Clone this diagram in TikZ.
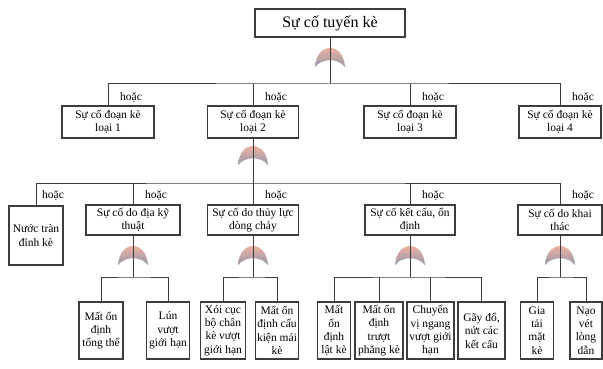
\documentclass[tikz,border=0pt]{standalone}
\usepackage{fontspec}
\setmainfont{Liberation Serif}
\usepackage{tikz}

\definecolor{gatetop}{RGB}{236,178,160}
\definecolor{gatemid}{RGB}{218,142,120}
\definecolor{gatebot}{RGB}{150,152,172}
\definecolor{linegray}{RGB}{60,60,60}

\begin{document}
\begin{tikzpicture}[
                x=1pt, y=-1pt,               % 1pt = 1px of the layout
                every node/.style={
                    align=center,
                    inner sep=0pt,
                    font=\fontsize{11.5}{13.4}\selectfont
                },
                box/.style={draw=linegray, line width=1.2pt, fill=white, minimum height=32pt},
                leaf/.style={box, minimum height=57pt},
                lab/.style={anchor=west},
                link/.style={draw=linegray, line width=1pt},
                orgate/.pic={
                    \shade[top color=gatetop, middle color=gatemid, bottom color=gatebot]
                        (-15,9) .. controls (-14,-4) and (-7,-10) .. (0,-10)
                        .. controls (7,-10) and (14,-4) .. (15,9)
                        .. controls (8,0) and (-8,0) .. (-15,9) -- cycle;
                }
            ]
                \useasboundingbox (0,0) rectangle (603,369);

                % nodes
                \node[box, minimum width=150pt, minimum height=28pt,
                      font=\fontsize{16}{18}\selectfont] (top) at (330,23) {Sự cố tuyến kè};

                \node[box, minimum width=92pt] (d1) at (108,122) {Sự cố đoạn kè\\loại 1};
                \node[box, minimum width=91pt] (d2) at (253,122) {Sự cố đoạn kè\\loại 2};
                \node[box, minimum width=92pt] (d3) at (410,122) {Sự cố đoạn kè\\loại 3};
                \node[box, minimum width=82pt] (d4) at (560,122) {Sự cố đoạn kè\\loại 4};

                \node[box, minimum width=54pt, minimum height=59pt] (tran) at (36,235.5) {Nước tràn\\đỉnh kè};
                \node[box, minimum width=94pt, minimum height=30pt] (dkt) at (133,220) {Sự cố do địa kỹ\\thuật};
                \node[box, minimum width=91pt, minimum height=30pt] (tl) at (253,220) {Sự cố do thủy lực\\dòng chảy};
                \node[box, minimum width=90pt, minimum height=30pt] (kc) at (410,220) {Sự cố kết cấu, ổn\\định};
                \node[box, minimum width=84pt, minimum height=30pt] (kt) at (560,220) {Sự cố do khai\\thác};

                \node[leaf, minimum width=44pt] (a1) at (101,330.5) {Mất ổn\\định\\tổng thể};
                \node[leaf, minimum width=43pt] (a2) at (168,330.5) {Lún\\vượt\\giới hạn};
                \node[leaf, minimum width=45pt] (b1) at (223,330.5) {Xói cục\\bộ chân\\kè vượt\\giới hạn};
                \node[leaf, minimum width=43pt] (b2) at (277,330.5) {Mất ổn\\định cấu\\kiện mái\\kè};
                \node[leaf, minimum width=33pt] (c1) at (334,330.5) {Mất\\ổn\\định\\lật kè};
                \node[leaf, minimum width=48pt] (c2) at (379,330.5) {Mất ổn\\định\\trượt\\phẳng kè};
                \node[leaf, minimum width=47pt] (c3) at (430.5,330.5) {Chuyển\\vị ngang\\vượt giới\\hạn};
                \node[leaf, minimum width=47pt] (c4) at (481.5,330.5) {Gãy đổ,\\nứt các\\kết cấu};
                \node[leaf, minimum width=33pt] (e1) at (537,330.5) {Gia\\tải\\mặt\\kè};
                \node[leaf, minimum width=32pt] (e2) at (586,330.5) {Nạo\\vét\\lòng\\dẫn};

                % labels
                \node[lab] (h1) at (120,97) {hoặc};
                \node[lab] (h2) at (265,97) {hoặc};
                \node[lab] (h3) at (422,97) {hoặc};
                \node[lab] (h4) at (572,97) {hoặc};
                \node[lab] (h5) at (42,195) {hoặc};
                \node[lab] (h6) at (145,195) {hoặc};
                \node[lab] (h7) at (265,195) {hoặc};
                \node[lab] (h8) at (422,195) {hoặc};
                \node[lab] (h9) at (572,195) {hoặc};

                % gates
                \coordinate (g0) at (330,58);
                \coordinate (g1) at (253,156);
                \coordinate (g2) at (133,256);
                \coordinate (g3) at (253,256);
                \coordinate (g4) at (410,256);
                \coordinate (g5) at (560,256);
                \foreach \g in {g0,g1,g2,g3,g4,g5}
                    \pic at (\g) {orgate};

                % bus lines
                \coordinate (bus0) at (330,84);
                \coordinate (bus1) at (253,183);
                \coordinate (bus2) at (133,277);
                \coordinate (bus3) at (253,277);
                \coordinate (bus4) at (410,277);
                \coordinate (bus5) at (560,277);

                % edges
                \draw[link] (top) -- (bus0);
                \draw[link] (d1.north) |- (bus0) -| (d4.north);
                \draw[link] (d2.north) -- (d2.north |- bus0);
                \draw[link] (d3.north) -- (d3.north |- bus0);

                \draw[link] (d2) -- (bus1);
                \draw[link] (tran.north) |- (bus1) -| (kt.north);
                \draw[link] (dkt.north) -- (dkt.north |- bus1);
                \draw[link] (tl.north) -- (tl.north |- bus1);
                \draw[link] (kc.north) -- (kc.north |- bus1);

                \draw[link] (dkt) -- (bus2);
                \draw[link] (a1.north) |- (bus2) -| (a2.north);
                \draw[link] (tl) -- (bus3);
                \draw[link] (b1.north) |- (bus3) -| (b2.north);
                \draw[link] (kc) -- (bus4);
                \draw[link] (c1.north) |- (bus4) -| (c4.north);
                \draw[link] (c2.north) -- (c2.north |- bus4);
                \draw[link] (c3.north) -- (c3.north |- bus4);
                \draw[link] (kt) -- (bus5);
                \draw[link] (e1.north) |- (bus5) -| (e2.north);
            \end{tikzpicture}
\end{document}
